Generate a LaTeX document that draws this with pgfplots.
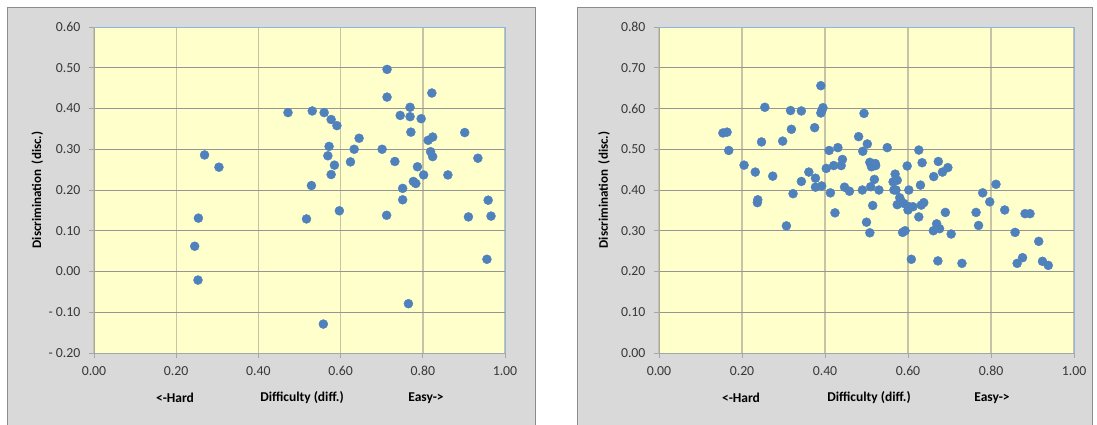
\documentclass[border=0pt]{standalone}
\usepackage{fontspec}
\setmainfont{Carlito}
\usepackage{pgfplots}
\pgfplotsset{compat=1.18}
\definecolor{panelbg}{HTML}{D9D9D9}
\definecolor{panelborder}{HTML}{8C8C8C}
\definecolor{plotbg}{HTML}{FFFFCC}
\definecolor{vgrid}{HTML}{C6C3A6}
\definecolor{hgrid}{HTML}{959595}
\definecolor{axisgray}{HTML}{A6A6A6}
\definecolor{axisblue}{HTML}{8DB4E2}
\definecolor{dot}{HTML}{4F81BD}
\definecolor{ticktext}{HTML}{383838}
\pgfplotsset{
 myaxis/.style={
  scale only axis, axis lines=left, axis line style={-, draw=axisgray, line width=1pt},
  xmin=0, xmax=1, enlargelimits=false, clip=false,
  xtick={0,0.2,0.4,0.6,0.8,1}, xticklabels={0.00,0.20,0.40,0.60,0.80,1.00},
  tick align=outside, major tick length=5pt, tick style={draw=axisgray, line width=0.8pt},
  grid=major, x grid style={draw=vgrid, line width=1.4pt}, y grid style={draw=hgrid, line width=1pt},
  axis background/.style={fill=plotbg},
  ticklabel style={font=\fontsize{13.8}{16}\selectfont, text=ticktext},
  xticklabel style={yshift=-5pt}, yticklabel style={xshift=-5pt},
  every axis y label/.style={at={(axis description cs:-0.138,0.5)}, rotate=90, anchor=center, font=\bfseries\fontsize{13}{15}\selectfont},
  after end axis/.code={\draw[axisblue, line width=1pt] (rel axis cs:0,1) -- (rel axis cs:1,1) -- (rel axis cs:1,0);},
 },
 dots/.style={only marks, mark=*, mark size=4.5pt, mark options={fill=dot, draw=dot}},
}
\begin{document}
\begin{tikzpicture}
\draw[panelborder, fill=panelbg, line width=1pt] (7pt,-5pt) rectangle (535pt,416pt);
\draw[panelborder, fill=panelbg, line width=1pt] (577pt,-5pt) rectangle (1092pt,416pt);
\begin{axis}[myaxis, at={(94pt,71pt)}, anchor=south west, width=411pt, height=326pt,
  ymin=-0.2, ymax=0.6, ytick={-0.2,-0.1,0,0.1,0.2,0.3,0.4,0.5,0.6},
  yticklabels={- 0.20,- 0.10,0.00,0.10,0.20,0.30,0.40,0.50,0.60},
  ylabel={Discrimination\ \ (disc.)}]
\addplot[dots] coordinates {
(0.269,0.286) (0.304,0.256) (0.254,0.131) (0.245,0.062) (0.253,-0.021)
(0.472,0.390) (0.531,0.394) (0.560,0.390) (0.577,0.373) (0.591,0.358)
(0.645,0.327) (0.633,0.300) (0.572,0.307) (0.569,0.284) (0.585,0.261)
(0.577,0.238) (0.624,0.269) (0.529,0.211) (0.517,0.129) (0.597,0.149)
(0.558,-0.129) (0.713,0.496) (0.713,0.428) (0.822,0.438) (0.769,0.403)
(0.745,0.383) (0.769,0.380) (0.796,0.375) (0.771,0.342) (0.701,0.300)
(0.732,0.270) (0.813,0.322) (0.824,0.330) (0.819,0.294) (0.824,0.282)
(0.787,0.257) (0.802,0.237) (0.861,0.237) (0.777,0.221) (0.783,0.216)
(0.751,0.204) (0.751,0.176) (0.712,0.138) (0.902,0.341) (0.934,0.278)
(0.959,0.175) (0.911,0.134) (0.966,0.136) (0.956,0.030) (0.765,-0.079)
};
\end{axis}
\begin{axis}[myaxis, at={(659pt,71pt)}, anchor=south west, width=415pt, height=326pt,
  ymin=0, ymax=0.8, ytick={0,0.1,0.2,0.3,0.4,0.5,0.6,0.7,0.8},
  yticklabels={0.00,0.10,0.20,0.30,0.40,0.50,0.60,0.70,0.80},
  ylabel={Discrimination\ \ (disc.)},
  every axis y label/.append style={at={(axis description cs:-0.1325,0.5)}}]
\addplot[dots] coordinates {
(0.154,0.540) (0.164,0.542) (0.168,0.497) (0.205,0.461) (0.232,0.444)
(0.238,0.376) (0.237,0.369) (0.247,0.518) (0.255,0.603) (0.274,0.434)
(0.298,0.520) (0.307,0.312) (0.317,0.595) (0.319,0.549) (0.323,0.391)
(0.343,0.594) (0.343,0.421) (0.361,0.444) (0.375,0.553) (0.377,0.429)
(0.377,0.407) (0.390,0.656) (0.390,0.589) (0.395,0.602) (0.392,0.594)
(0.392,0.410) (0.403,0.453) (0.410,0.497) (0.413,0.393) (0.421,0.460)
(0.424,0.344) (0.431,0.504) (0.439,0.460) (0.442,0.475) (0.447,0.407)
(0.459,0.397) (0.481,0.531) (0.490,0.400) (0.491,0.495) (0.494,0.588)
(0.502,0.513) (0.500,0.321) (0.508,0.295) (0.508,0.468) (0.512,0.457)
(0.510,0.408) (0.515,0.362) (0.519,0.426) (0.521,0.465) (0.522,0.460)
(0.530,0.400) (0.550,0.504) (0.564,0.420) (0.566,0.400) (0.569,0.439)
(0.574,0.424) (0.571,0.400) (0.574,0.364) (0.580,0.381) (0.583,0.373)
(0.590,0.367) (0.587,0.296) (0.593,0.300) (0.598,0.459) (0.600,0.351)
(0.603,0.359) (0.602,0.400) (0.608,0.230) (0.612,0.359) (0.626,0.498)
(0.626,0.334) (0.630,0.412) (0.632,0.363) (0.638,0.369) (0.634,0.467)
(0.662,0.433) (0.661,0.300) (0.669,0.317) (0.673,0.470) (0.672,0.226)
(0.676,0.305) (0.683,0.444) (0.690,0.345) (0.696,0.455) (0.704,0.292)
(0.730,0.220) (0.764,0.345) (0.770,0.313) (0.780,0.393) (0.797,0.371)
(0.812,0.414) (0.833,0.351) (0.858,0.296) (0.863,0.220) (0.876,0.234)
(0.882,0.342) (0.894,0.342) (0.915,0.274) (0.924,0.225) (0.938,0.215)
};
\end{axis}
\begin{scope}[font=\bfseries\fontsize{13.5}{16}\selectfont]
\node at (175pt,26pt) {<-Hard};
\node at (302pt,26pt) {Difficulty (diff.)};
\node at (426pt,26pt) {Easy->};
\node at (741pt,26pt) {<-Hard};
\node at (869pt,26pt) {Difficulty (diff.)};
\node at (992pt,26pt) {Easy->};
\end{scope}
\pgfresetboundingbox
\path[use as bounding box] (0pt,0pt) rectangle (1097pt,424pt);
\end{tikzpicture}
\end{document}
